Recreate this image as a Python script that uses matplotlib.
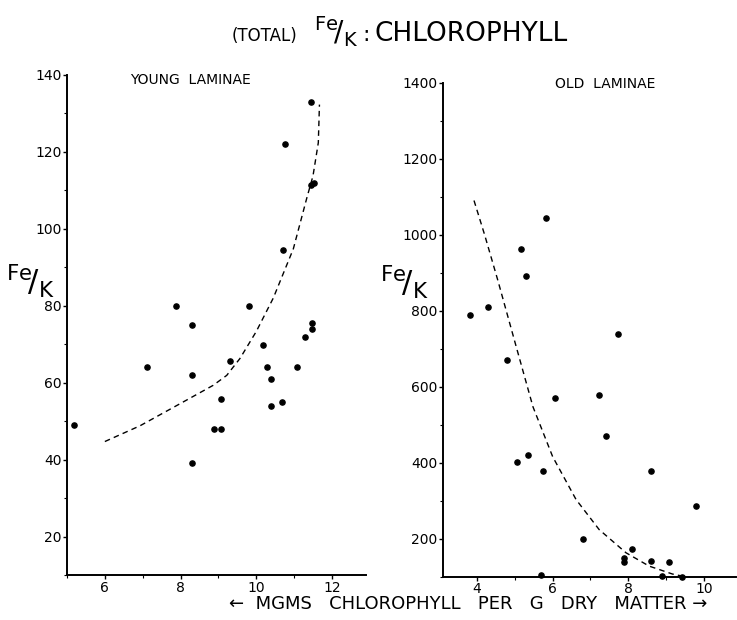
import matplotlib
matplotlib.use("Agg")
import matplotlib.pyplot as plt
from matplotlib.ticker import MultipleLocator

# Young laminae: chlorophyll (mg/g dry matter) vs Fe/K
young_chl = [5.19, 7.12, 7.89, 8.29, 8.31, 8.29, 8.88, 9.08, 9.08, 9.30, 9.81,
             10.19, 10.29, 10.39, 10.38, 10.68, 11.09, 11.28, 11.48, 11.48,
             11.44, 10.76, 11.44, 11.52, 10.70]
young_fek = [49, 64, 80, 75, 62, 39, 48, 48, 55.7, 65.6, 80,
             69.8, 64, 61, 54, 55, 64, 71.8, 74, 75.6,
             133, 122, 111.4, 112, 94.6]
young_curve_x = [6.0, 6.93, 7.98, 8.86, 9.22, 9.57, 10.0, 10.45, 10.98, 11.33, 11.5, 11.64, 11.67]
young_curve_y = [44.7, 48.8, 54.5, 59.3, 61.9, 66.3, 73.3, 82, 94.8, 107.8, 113.8, 122.4, 132.3]

# Old laminae
old_chl = [3.82, 4.30, 4.80, 5.05, 5.36, 5.74, 5.70, 6.06, 6.81, 7.22, 7.42, 7.74,
           7.88, 7.88, 8.09, 8.60, 8.59, 8.89, 9.08, 9.43, 9.78, 5.82, 5.17, 5.29]
old_fek = [790, 810, 671, 401, 421, 377, 105, 570, 199, 578, 470, 739,
           150, 139, 173, 377, 141, 103, 139, 100, 287, 1043, 963, 891]
old_curve_x = [3.92, 4.2, 4.55, 5.04, 5.48, 6.0, 6.62, 7.23, 7.94, 8.55, 9.17, 9.5]
old_curve_y = [1090, 1000, 880, 704, 547, 416, 303, 224, 163, 128, 107, 100]

FONT = "DejaVu Sans"
plt.rcParams["font.family"] = FONT
plt.rcParams["mathtext.fontset"] = "dejavusans"
W, H = 737, 620
FEK = r"$\mathregular{^{Fe}\!/_{K}}$"


def fx(px):
    return px / W


def fy(py):
    return 1 - py / H


fig = plt.figure(figsize=(7.37, 6.2), dpi=100)
ax1 = fig.add_axes([fx(67), fy(575), 299 / W, 500 / H])
ax2 = fig.add_axes([fx(443), fy(576.7), 293 / W, 494 / H])

for ax in (ax1, ax2):
    for s in ("top", "right"):
        ax.spines[s].set_visible(False)
    for s in ("left", "bottom"):
        ax.spines[s].set_linewidth(1.4)
    ax.tick_params(which="major", direction="out", length=3, width=1, labelsize=10, pad=1)
    ax.tick_params(which="minor", direction="out", length=2, width=0.8)

# left panel
ax1.scatter(young_chl, young_fek, s=14, color="black", zorder=3, clip_on=False)
ax1.plot(young_curve_x, young_curve_y, color="black", lw=1, dashes=(4, 3))
ax1.set_xlim(5, 12.9)
ax1.set_ylim(10, 140)
ax1.set_xticks([6, 8, 10, 12])
ax1.set_yticks([20, 40, 60, 80, 100, 120, 140])
ax1.xaxis.set_minor_locator(MultipleLocator(1))
ax1.yaxis.set_minor_locator(MultipleLocator(10))

# right panel
ax2.scatter(old_chl, old_fek, s=14, color="black", zorder=3, clip_on=False)
ax2.plot(old_curve_x, old_curve_y, color="black", lw=1, dashes=(4, 3))
ax2.set_xlim(3.1, 10.85)
ax2.set_ylim(100, 1400)
ax2.set_xticks([4, 6, 8, 10])
ax2.set_yticks([200, 400, 600, 800, 1000, 1200, 1400])
ax2.xaxis.set_minor_locator(MultipleLocator(1))
ax2.yaxis.set_minor_locator(MultipleLocator(100))

# panel titles
fig.text(fx(190), fy(80), "YOUNG  LAMINAE", ha="center", va="center", fontsize=10)
fig.text(fx(605), fy(84), "OLD  LAMINAE", ha="center", va="center", fontsize=10)

# Fe/K y labels
fig.text(fx(6), fy(281), FEK, ha="left", va="center", fontsize=22)
fig.text(fx(380), fy(282), FEK, ha="left", va="center", fontsize=22)

# main title
fig.text(fx(232), fy(41), "(TOTAL)", ha="left", va="baseline", fontsize=12)
fig.text(fx(314), fy(32), FEK, ha="left", va="center", fontsize=20)
fig.text(fx(362), fy(41), ":", ha="left", va="baseline", fontsize=16)
fig.text(fx(374), fy(41), "CHLOROPHYLL", ha="left", va="baseline", fontsize=19)

# x label
fig.text(fx(468), fy(604), "\u2190  MGMS   CHLOROPHYLL   PER   G   DRY   MATTER \u2192",
         ha="center", va="center", fontsize=13)

fig.savefig("out.png", dpi=100)
